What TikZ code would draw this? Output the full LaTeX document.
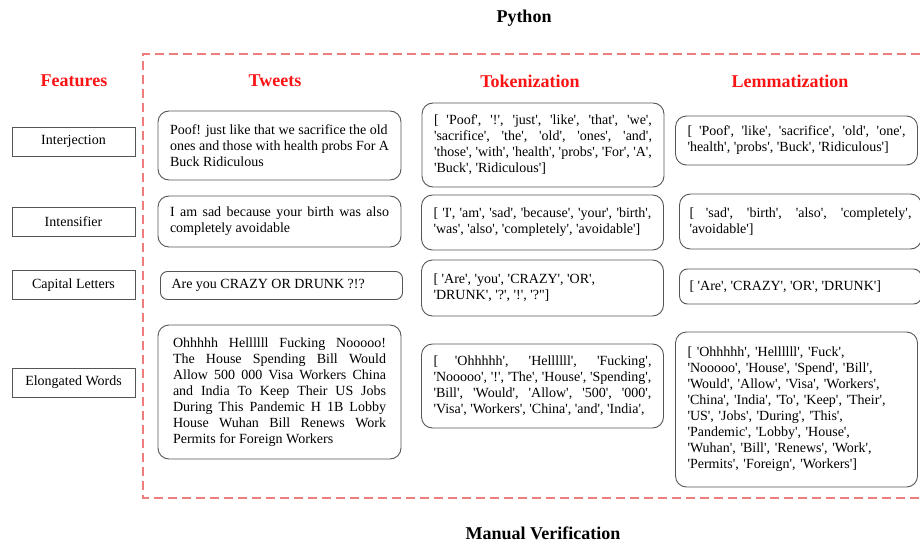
\documentclass[tikz,border=0pt]{standalone}
\usepackage{fontspec}
\setmainfont{Liberation Serif}[Ligatures=TeXOff]
\usepackage{tikz}

\definecolor{headred}{RGB}{250,20,20}
\definecolor{dashred}{RGB}{240,125,125}
\definecolor{boxgray}{RGB}{85,85,85}

\begin{document}
\begin{tikzpicture}[x=1pt,y=-1pt,
    head/.style={font=\fontsize{18}{20}\selectfont\bfseries},
    feat/.style={draw=boxgray,line width=0.9pt,minimum width=123pt,minimum height=29pt,inner sep=0pt,font=\fontsize{14}{16}\selectfont},
    cell/.style={draw=boxgray,line width=0.9pt,rounded corners=11pt,inner xsep=12pt,inner ysep=0pt,font=\fontsize{14}{16}\selectfont,align=justify}]
    \useasboundingbox (0,0) rectangle (920,543);
    \node [head] (python) at (524,18) {Python};
    \node [head] (manual) at (543,533) {Manual Verification};
    \draw [dashred,line width=1.3pt,dash pattern=on 9pt off 5pt] (920,54) -- (143,54) -- (143,498) -- (920,498);
    % column heads
    \node [head,headred] (hfeat) at (74,81) {Features};
    \node [head,headred] (htweet) at (275,81) {Tweets};
    \node [head,headred] (htoken) at (530,81) {Tokenization};
    \node [head,headred] (hlemma) at (790,81) {Lemmatization};
    % features
    \node [feat] (interj) at (73.5,141.5) {Interjection};
    \node [feat] (intens) at (73.5,222) {Intensifier};
    \node [feat] (capital) at (73.5,285) {Capital Letters};
    \node [feat] (elong) at (73.5,382.5) {Elongated Words};
    % tweets
    \node [cell,text width=219,minimum height=69] (tw1) at (279.5,145.5) {Poof! just like that we sacrifice the old\\ones and those with health probs For A\\Buck Ridiculous};
    \node [cell,text width=219,minimum height=51] (tw2) at (279.5,221.5) {I am sad because your birth was also\linebreak completely avoidable};
    \node [cell,text width=220,minimum height=28,rounded corners=7pt,inner xsep=11pt] (tw3) at (281.5,285.5) {Are you CRAZY OR DRUNK ?!?};
    \node [cell,text width=213,minimum height=134,inner xsep=15pt] (tw4) at (279.5,392) {Ohhhhh Hellllll Fucking Nooooo!\linebreak The House Spending Bill Would\linebreak Allow 500 000 Visa Workers China\linebreak and India To Keep Their US Jobs\linebreak During This Pandemic H 1B Lobby\linebreak House Wuhan Bill Renews Work\linebreak Permits for Foreign Workers};
    % tokenization
    \node [cell,text width=218,minimum height=84] (tk1) at (543,145) {[ 'Poof', '!', 'just', 'like', 'that', 'we',\linebreak 'sacrifice', 'the', 'old', 'ones', 'and',\linebreak 'those', 'with', 'health', 'probs', 'For', 'A',\linebreak 'Buck', 'Ridiculous']};
    \node [cell,text width=218,minimum height=55] (tk2) at (542.5,222.5) {[ 'I', 'am', 'sad', 'because', 'your', 'birth',\linebreak 'was', 'also', 'completely', 'avoidable']};
    \node [cell,text width=218,minimum height=56] (tk3) at (542.5,288) {[ 'Are', 'you', 'CRAZY', 'OR',\\'DRUNK', '?', '!', '?"]};
    \node [cell,text width=218,minimum height=84] (tk4) at (542.5,386) {[ 'Ohhhhh', 'Hellllll', 'Fucking',\linebreak 'Nooooo', '!', 'The', 'House', 'Spending',\linebreak 'Bill', 'Would', 'Allow', '500', '000',\linebreak 'Visa', 'Workers', 'China', 'and', 'India',};
    % lemmatization
    \node [cell,text width=218,minimum height=49] (lm1) at (796.5,140.5) {[ 'Poof', 'like', 'sacrifice', 'old', 'one',\linebreak 'health', 'probs', 'Buck', 'Ridiculous']};
    \node [cell,text width=222,minimum height=55,inner xsep=10pt] (lm2) at (800.5,221.5) {[ 'sad', 'birth', 'also', 'completely',\linebreak 'avoidable']};
    \node [cell,text width=222,minimum height=35,inner xsep=10pt,rounded corners=8pt] (lm3) at (800.5,286.5) {[ 'Are', 'CRAZY', 'OR', 'DRUNK']};
    \node [cell,text width=218,minimum height=155,align=left] (lm4) at (796.5,409.5) {[ 'Ohhhhh', 'Hellllll', 'Fuck',\\'Nooooo', 'House', 'Spend', 'Bill',\\'Would', 'Allow', 'Visa', 'Workers',\\'China', 'India', 'To', 'Keep', 'Their',\\'US', 'Jobs', 'During', 'This',\\'Pandemic', 'Lobby', 'House',\\'Wuhan', 'Bill', 'Renews', 'Work',\\'Permits', 'Foreign', 'Workers']};
\end{tikzpicture}
\end{document}
